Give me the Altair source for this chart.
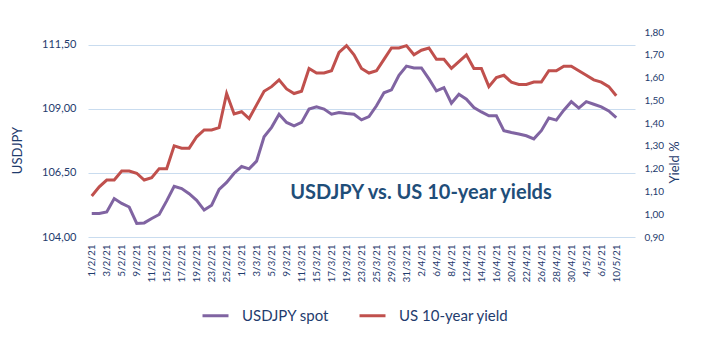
import json
import altair as alt
import pandas as pd

dates = [
    "1/2/21", "2/2/21", "3/2/21", "4/2/21", "5/2/21", "8/2/21", "9/2/21", "10/2/21", "11/2/21", "12/2/21",
    "15/2/21", "16/2/21", "17/2/21", "18/2/21", "19/2/21", "22/2/21", "23/2/21", "24/2/21", "25/2/21", "26/2/21",
    "1/3/21", "2/3/21", "3/3/21", "4/3/21", "5/3/21", "8/3/21", "9/3/21", "10/3/21", "11/3/21", "12/3/21",
    "15/3/21", "16/3/21", "17/3/21", "18/3/21", "19/3/21", "22/3/21", "23/3/21", "24/3/21", "25/3/21", "26/3/21",
    "29/3/21", "30/3/21", "31/3/21", "1/4/21", "2/4/21", "5/4/21", "6/4/21", "7/4/21", "8/4/21", "9/4/21",
    "12/4/21", "13/4/21", "14/4/21", "15/4/21", "16/4/21", "19/4/21", "20/4/21", "21/4/21", "22/4/21", "23/4/21",
    "26/4/21", "27/4/21", "28/4/21", "29/4/21", "30/4/21", "3/5/21", "4/5/21", "5/5/21", "6/5/21", "7/5/21",
    "10/5/21",
]

usdjpy = [
    104.92, 104.92, 104.98, 105.50, 105.31, 105.17, 104.53, 104.55, 104.72, 104.88,
    105.41, 105.98, 105.89, 105.69, 105.43, 105.05, 105.24, 105.86, 106.13, 106.49,
    106.75, 106.66, 106.96, 107.91, 108.28, 108.79, 108.47, 108.34, 108.47, 108.99,
    109.08, 108.99, 108.79, 108.86, 108.82, 108.79, 108.57, 108.70, 109.12, 109.63,
    109.74, 110.31, 110.67, 110.60, 110.60, 110.17, 109.70, 109.83, 109.22, 109.57,
    109.38, 109.05, 108.88, 108.73, 108.73, 108.15, 108.08, 108.02, 107.95, 107.83,
    108.15, 108.64, 108.56, 108.95, 109.28, 109.03, 109.28, 109.18, 109.08, 108.92,
    108.66,
]

yields = [
    1.08, 1.12, 1.15, 1.15, 1.19, 1.19, 1.18, 1.15, 1.16, 1.20,
    1.20, 1.30, 1.29, 1.29, 1.34, 1.37, 1.37, 1.38, 1.53, 1.44,
    1.45, 1.42, 1.48, 1.54, 1.56, 1.59, 1.55, 1.53, 1.54, 1.64,
    1.62, 1.62, 1.63, 1.71, 1.74, 1.70, 1.64, 1.62, 1.63, 1.68,
    1.73, 1.73, 1.74, 1.70, 1.72, 1.73, 1.68, 1.68, 1.64, 1.67,
    1.70, 1.64, 1.64, 1.56, 1.60, 1.61, 1.58, 1.57, 1.57, 1.58,
    1.58, 1.63, 1.63, 1.65, 1.65, 1.63, 1.61, 1.59, 1.58, 1.56,
    1.52,
]

series_names = ["USDJPY spot", "US 10-year yield"]
series_colors = ["#8064a2", "#c0504d"]
left_ticks = [104.0, 106.5, 109.0, 111.5]
right_ticks = [0.9, 1.0, 1.1, 1.2, 1.3, 1.4, 1.5, 1.6, 1.7, 1.8]
chart_title = "USDJPY vs. US 10-year yields"

FONT = "Lato"
TXT = "#1f3c6e"
GRID = "#c9dcef"

df_u = pd.DataFrame({"i": range(len(dates)), "date": dates, "value": usdjpy, "series": series_names[0]})
df_y = pd.DataFrame({"i": range(len(dates)), "date": dates, "value": yields, "series": series_names[1]})

label_expr = json.dumps(dates) + "[datum.value]"
comma_expr = "replace(format(datum.value, '.2f'), '.', ',')"

x_enc = alt.X(
    "i:Q",
    scale=alt.Scale(domain=[-0.5, 72.5], nice=False, zero=False),
    axis=alt.Axis(
        values=list(range(0, len(dates), 2)),
        labelExpr=label_expr,
        labelAngle=270,
        labelAlign="right",
        labelBaseline="middle",
        labelFont=FONT,
        labelFontSize=10,
        labelColor=TXT,
        labelPadding=7,
        labelOverlap=False,
        grid=False,
        domain=False,
        ticks=False,
        title=None,
    ),
)

color_enc = alt.Color(
    "series:N",
    scale=alt.Scale(domain=series_names, range=series_colors),
    legend=alt.Legend(
        orient="none",
        legendX=113,
        legendY=269,
        direction="horizontal",
        title=None,
        symbolType="stroke",
        symbolStrokeWidth=3,
        symbolSize=676,
        labelFont=FONT,
        labelFontSize=15,
        labelColor=TXT,
        labelOffset=12,
        columnPadding=24,
    ),
)

left = alt.Chart(df_u).mark_line(strokeWidth=3).encode(
    x=x_enc,
    y=alt.Y(
        "value:Q",
        scale=alt.Scale(domain=[104, 112], nice=False, zero=False),
        axis=alt.Axis(
            values=left_ticks,
            labelExpr=comma_expr,
            labelFont=FONT,
            labelFontSize=11,
            labelColor=TXT,
            labelPadding=12,
            grid=True,
            gridColor=GRID,
            gridWidth=1,
            domain=False,
            ticks=False,
            title="USDJPY",
            titleFont=FONT,
            titleFontSize=13,
            titleFontWeight="normal",
            titleColor=TXT,
            titleX=-64,
            titleY=118,
        ),
    ),
    color=color_enc,
)

right = alt.Chart(df_y).mark_line(strokeWidth=3).encode(
    x=x_enc,
    y=alt.Y(
        "value:Q",
        scale=alt.Scale(domain=[0.9, 1.8], nice=False, zero=False),
        axis=alt.Axis(
            orient="right",
            values=right_ticks,
            labelExpr=comma_expr,
            labelFont=FONT,
            labelFontSize=10,
            labelColor=TXT,
            labelPadding=9,
            grid=False,
            domain=False,
            ticks=False,
            title="Yield %",
            titleFont=FONT,
            titleFontSize=13,
            titleFontWeight="normal",
            titleColor=TXT,
            titleAngle=270,
            titleX=46,
            titleY=130,
        ),
    ),
    color=color_enc,
)

title_layer = alt.Chart(pd.DataFrame({"t": [chart_title]})).mark_text(
    font=FONT, fontSize=20, fontWeight="bold", color="#1f4e79", align="center", baseline="middle"
).encode(x=alt.value(333), y=alt.value(161), text="t:N")

chart = (
    alt.layer(left, right, title_layer)
    .resolve_scale(y="independent")
    .properties(
        width=547,
        height=205,
        padding={"left": 88, "top": 32, "right": 89, "bottom": 117},
        autosize=alt.AutoSizeParams(type="none"),
        background="white",
    )
    .configure_view(stroke=None)
)

chart.save("out.html", embed_options={"renderer": "svg", "actions": False})
